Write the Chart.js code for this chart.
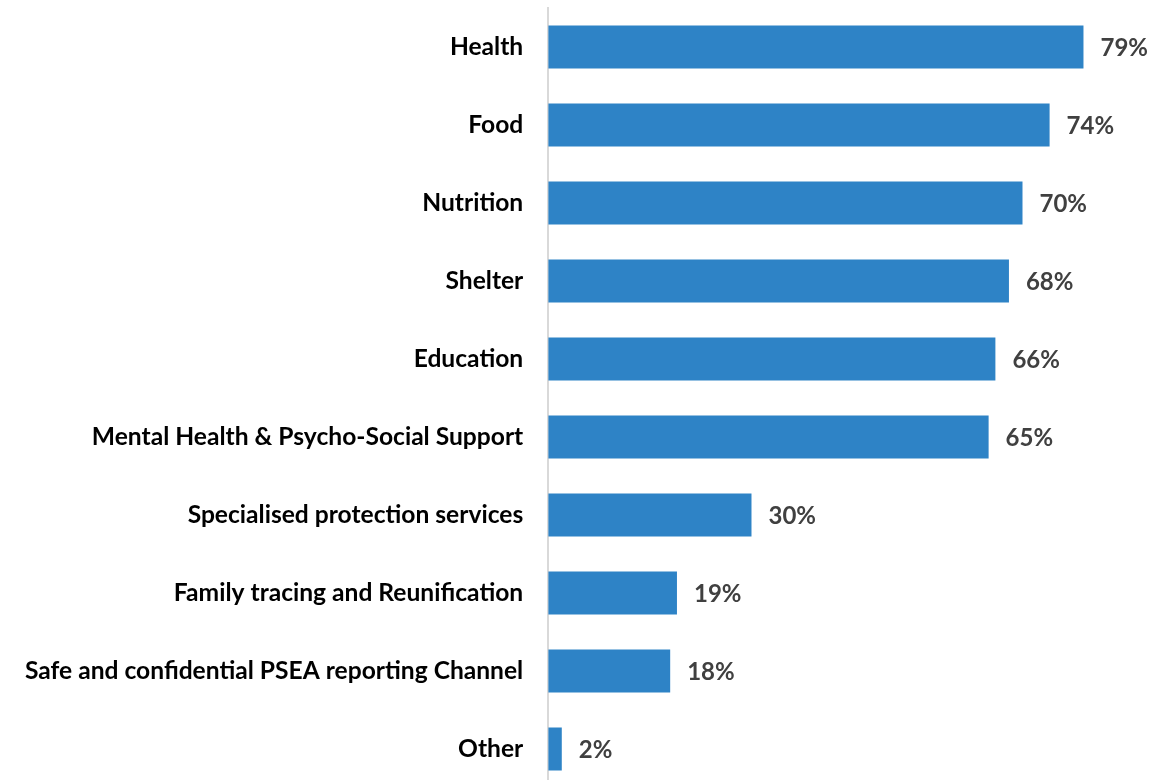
<!DOCTYPE html>
<html>
<head>
<meta charset="utf-8">
<script src="https://cdn.jsdelivr.net/npm/chart.js@4"></script>
<style>
  html, body { margin: 0; padding: 0; background: #fff; overflow: hidden; }
  canvas { display: block; }
</style>
</head>
<body>
<canvas id="chart" width="1162" height="788"></canvas>
<script>
const categories = ['Health', 'Food', 'Nutrition', 'Shelter', 'Education',
  'Mental Health & Psycho-Social Support', 'Specialised protection services',
  'Family tracing and Reunification', 'Safe and confidential PSEA reporting Channel', 'Other'];
const values = [79, 74, 70, 68, 66, 65, 30, 19, 18, 2];

const fontFamily = 'Lato, "Open Sans", sans-serif';

// draws "NN%" just after the end of each bar
const valueLabels = {
  id: 'valueLabels',
  afterDatasetsDraw(chart) {
    const ctx = chart.ctx;
    const meta = chart.getDatasetMeta(0);
    ctx.save();
    ctx.font = 'bold 24px ' + fontFamily;
    ctx.fillStyle = '#404040';
    ctx.textBaseline = 'middle';
    ctx.textAlign = 'left';
    meta.data.forEach((bar, i) => {
      ctx.fillText(values[i] + '%', bar.x + 17, bar.y + 1);
    });
    ctx.restore();
  }
};

const ctx = document.getElementById('chart');

new Chart(ctx, {
  type: 'bar',
  data: {
    labels: categories,
    datasets: [{
      data: values,
      backgroundColor: '#2E83C6',
      borderWidth: 0,
      categoryPercentage: 1,
      barPercentage: 0.55
    }]
  },
  options: {
    indexAxis: 'y',
    responsive: false,
    animation: false,
    layout: { padding: { top: 8, right: 4, bottom: 0, left: 0 } },
    plugins: {
      legend: { display: false },
      tooltip: { enabled: false }
    },
    scales: {
      x: {
        display: false,
        min: 0,
        max: 90
      },
      y: {
        grid: { display: false, drawTicks: false },
        border: { display: true, color: '#D9D9D9', width: 2 },
        ticks: {
          color: '#000',
          padding: 25,
          font: { family: fontFamily, size: 24.6, weight: 'bold' }
        },
        // tick padding would otherwise also be added above and below the axis
        afterFit(scale) {
          scale.paddingTop = 0;
          scale.paddingBottom = 0;
        }
      }
    }
  },
  plugins: [valueLabels]
});
</script>
</body>
</html>
